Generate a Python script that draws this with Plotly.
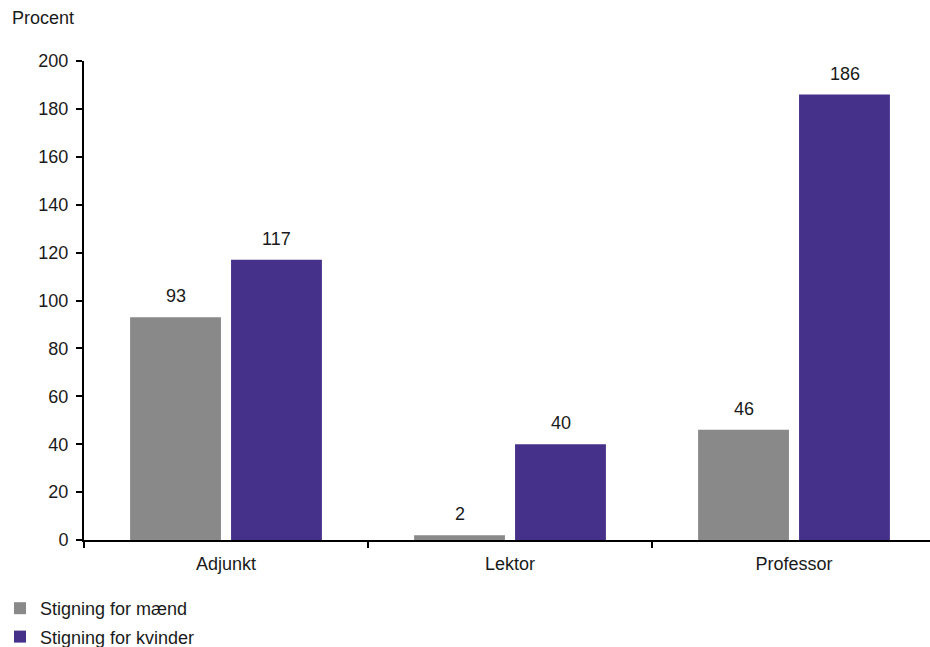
import plotly.graph_objects as go

# Stillingskategorier og procentvis stigning
categories = ["Adjunkt", "Lektor", "Professor"]
men_values = [93, 2, 46]
women_values = [117, 40, 186]
series_names = ["Stigning for mænd", "Stigning for kvinder"]
y_ticks = [0, 20, 40, 60, 80, 100, 120, 140, 160, 180, 200]

GRAY = "#898989"
PURPLE = "#46318a"
FONT = "Liberation Sans, Arial, sans-serif"
FS = 18

plot_w = 930 - 84
plot_h = 540 - 61

fig = go.Figure()
fig.add_trace(go.Bar(
    x=categories, y=men_values, name=series_names[0],
    marker=dict(color=GRAY, line=dict(width=0)),
    legendgroup="m",
))
fig.add_trace(go.Bar(
    x=categories, y=women_values, name=series_names[1],
    marker=dict(color=PURPLE, line=dict(width=0)),
    legendgroup="k",
))

# Værdietiketter over søjlerne
offset_px = 50.5
for vals, shift in ((men_values, -offset_px), (women_values, offset_px)):
    for c, v in zip(categories, vals):
        fig.add_annotation(
            x=c, y=v, text=str(v), showarrow=False,
            xshift=shift, yshift=21, yanchor="middle",
            font=dict(family=FONT, size=FS, color="#1a1a1a"),
        )

# Enhed over y-aksen
fig.add_annotation(
    x=(10 - 84) / plot_w, y=1 + (61 - 18) / plot_h,
    xref="paper", yref="paper", text="Procent", showarrow=False,
    xanchor="left", yanchor="middle",
    font=dict(family=FONT, size=FS, color="#1a1a1a"),
)

fig.update_layout(
    width=930, height=647,
    margin=dict(l=84, r=0, t=61, b=107, autoexpand=False),
    paper_bgcolor="white", plot_bgcolor="white",
    barmode="group", bargap=0.289, bargroupgap=0.1,
    font=dict(family=FONT, size=FS, color="#1a1a1a"),
    showlegend=True,
    legend=dict(
        orientation="v", x=-84 / plot_w, xanchor="left",
        y=-(590 - 540) / plot_h, yanchor="top",
        font=dict(family=FONT, size=FS, color="#1a1a1a"),
        tracegroupgap=2, traceorder="grouped",
        bgcolor="rgba(0,0,0,0)",
    ),
    xaxis=dict(
        range=[-0.5, -0.5 + plot_w / 284.0],
        showline=True, linecolor="black", linewidth=2,
        ticks="outside", tickson="boundaries", ticklen=6, tickwidth=2,
        tickcolor="black", showgrid=False, zeroline=False,
        ticklabelstandoff=6,
        tickfont=dict(family=FONT, size=FS, color="#1a1a1a"),
    ),
    yaxis=dict(
        range=[0, 200], tickvals=y_ticks,
        showline=True, linecolor="black", linewidth=2,
        ticks="outside", ticklen=6, tickwidth=2, tickcolor="black",
        showgrid=False, zeroline=False,
        ticklabelstandoff=4,
        tickfont=dict(family=FONT, size=FS, color="#1a1a1a"),
    ),
)

fig.write_html("out.html")
